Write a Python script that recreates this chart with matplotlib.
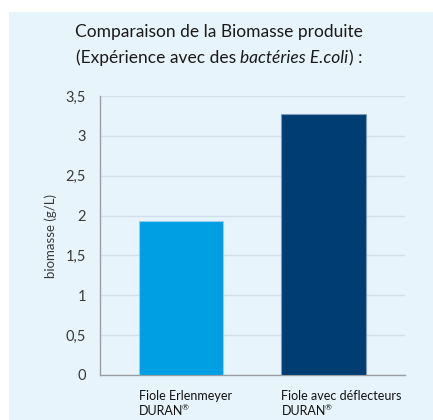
import matplotlib
matplotlib.use('Agg')
import matplotlib.pyplot as plt
from matplotlib.patches import Rectangle
from matplotlib.transforms import blended_transform_factory

# ── Data ────────────────────────────────────────────────────────────────────
categories = ['Fiole Erlenmeyer', 'Fiole avec déflecteurs']
brand = 'DURAN'
biomasse = [1.93, 3.28]
bar_colors = ['#009FE3', '#003D73']
edge_colors = ['#8FCDF0', '#7E9CBB']
yticks = [0, 0.5, 1, 1.5, 2, 2.5, 3, 3.5]
ytick_labels = ['0', '0,5', '1', '1,5', '2', '2,5', '3', '3,5']

plt.rcParams['font.family'] = ['Lato', 'DejaVu Sans']

W, H = 433, 420
fig = plt.figure(figsize=(W / 100, H / 100), dpi=100)
fig.patch.set_facecolor('white')

# light blue panel behind everything
bg = '#E8F4FC'
fig.patches.append(Rectangle((9 / W, 0), 1 - 9 / W, (H - 12) / H,
                             transform=fig.transFigure, facecolor=bg,
                             edgecolor='none', zorder=-10))

ax = fig.add_axes([100 / W, (H - 375) / H, 305 / W, (375 - 96) / H])
ax.patch.set_visible(False)

width = 0.59
x = list(range(len(categories)))
ax.bar(x, biomasse, width=width, color=bar_colors, edgecolor=edge_colors,
       linewidth=0.8, zorder=3)

ax.set_xlim(-0.568, 1.572)
ax.set_ylim(0, 3.5)
ax.set_yticks(yticks)
ax.set_yticklabels(ytick_labels, fontsize=10.5, color='#3a3a3a')
ax.yaxis.grid(True, color='#D3DFE8', linewidth=1.0, zorder=0)
ax.set_axisbelow(True)
ax.tick_params(axis='y', length=0, pad=10)
ax.set_xticks([])

for s in ['top', 'right']:
    ax.spines[s].set_visible(False)
for s in ['left', 'bottom']:
    ax.spines[s].set_color('#9A9EA3')
    ax.spines[s].set_linewidth(1.0)

ax.set_ylabel('biomasse (g/L)', fontsize=9.5, color='#3a3a3a', labelpad=6)

# ── Category labels: name on one line, brand + small ® below ───────────────
fig.canvas.draw()
renderer = fig.canvas.get_renderer()
trans = blended_transform_factory(ax.transData, fig.transFigure)
lkw = dict(fontsize=9, color='#111111', va='baseline', ha='left')
for xi, name in zip(x, categories):
    x0 = xi - width / 2
    ax.text(x0, 1 - 400 / H, name, transform=trans, **lkw)
    t = ax.text(x0, 1 - 415 / H, brand, transform=trans, **lkw)
    bb = t.get_window_extent(renderer)
    fig.text((bb.x1 - 1.5) / W, 1 - 410.5 / H, '®', fontsize=6,
             color='#111111', va='baseline', ha='left')

# ── Title (two lines, part of the second one in italics) ───────────────────
tkw = dict(fontsize=12.5, color='#1a1a1a', va='baseline')
fig.text(219 / W, 1 - 37 / H, 'Comparaison de la Biomasse produite',
         ha='center', **tkw)

parts = [('(Expérience avec des ', 'normal'),
         ('bactéries E.coli', 'italic'),
         (') :', 'normal')]
texts = []
for s, st in parts:
    t = fig.text(0, 1 - 63 / H, s, style=st, ha='left', **tkw)
    texts.append(t)
widths = [t.get_window_extent(renderer).width for t in texts]
total = sum(widths)
xpos = 219 - total / 2
for t, w in zip(texts, widths):
    t.set_x(xpos / W)
    xpos += w

fig.savefig('out.png', dpi=100, facecolor='white')
